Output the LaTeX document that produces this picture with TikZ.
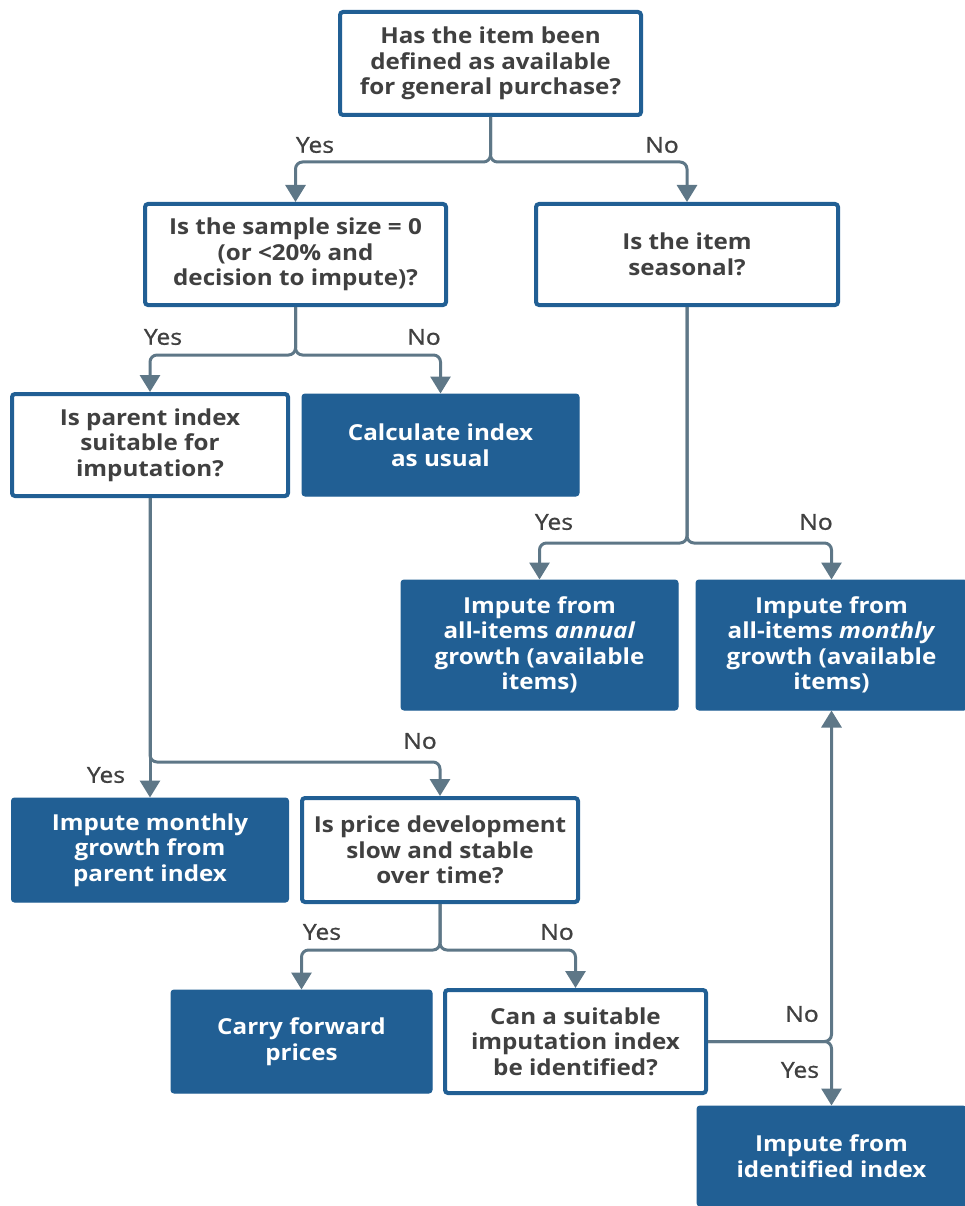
\documentclass[tikz,border=0pt]{standalone}
\usepackage{fontspec}
\setmainfont{Open Sans}[FakeStretch=1.1]
\newfontfamily\lblfam{Open Sans}[FakeStretch=1.12, FakeBold=1]
\usetikzlibrary{arrows.meta}
\definecolor{qblue}{HTML}{215F94}
\definecolor{qline}{HTML}{5E7787}
\definecolor{qtext}{HTML}{404040}
\newcommand{\qboxfont}{\fontsize{22}{25.5}\selectfont\bfseries}
\newcommand{\qlblfont}{\lblfam\fontsize{22}{25}\selectfont}
\begin{document}
\begin{tikzpicture}[x=1pt,y=-1pt,
  qbox/.style={draw=qblue, line width=4pt, fill=white, rounded corners=3pt, inner sep=0pt, align=center, text=qtext, font=\qboxfont},
  rbox/.style={draw=qblue, line width=1pt, fill=qblue, rounded corners=3pt, inner sep=0pt, align=center, text=white, font=\qboxfont},
  conn/.style={draw=qline, line width=3pt, rounded corners=7pt, -{Triangle[width=20pt,length=17pt]}},
  lbl/.style={text=qtext, font=\qlblfont, inner sep=0pt}]
\useasboundingbox (0,0) rectangle (964,1206);

% decision boxes
\node[qbox, minimum width=301, minimum height=103] (q1) at (490.5,63.5) {Has the item been\\defined as available\\for general purchase?};
\node[qbox, minimum width=301, minimum height=101] (q2) at (295.5,254.5) {Is the sample size = 0\\(or <20\% and\\decision to impute)?};
\node[qbox, minimum width=302, minimum height=101] (q3) at (687,254.5) {Is the item\\seasonal?};
\node[qbox, minimum width=276, minimum height=102] (q4) at (150,445) {Is parent index\\suitable for\\imputation?};
\node[qbox, minimum width=276, minimum height=104] (q5) at (440,850) {Is price development\\slow and stable\\over time?};
\node[qbox, minimum width=261, minimum height=103] (q6) at (575.5,1041.5) {Can a suitable\\imputation index\\be identified?};

% result boxes
\node[rbox, minimum width=277, minimum height=102] (r1) at (440.5,445) {Calculate index\\as usual};
\node[rbox, minimum width=277, minimum height=130] (r2) at (539.5,645) {Impute from\\all-items \textit{annual}\\growth (available\\items)};
\node[rbox, minimum width=271, minimum height=130] (r3) at (831.5,645) {Impute from\\all-items \textit{monthly}\\growth (available\\items)};
\node[rbox, minimum width=277, minimum height=104] (r4) at (150,850) {Impute monthly\\growth from\\parent index};
\node[rbox, minimum width=261, minimum height=103] (r5) at (301.5,1041.5) {Carry forward\\prices};
\node[rbox, minimum width=269, minimum height=100] (r6) at (831.5,1156) {Impute from\\identified index};

% junctions
\coordinate (j1) at (490.5,162);
\coordinate (j2) at (295.5,355);
\coordinate (j3) at (687,543);
\coordinate (j4) at (150,762);
\coordinate (j5) at (440,950);
\coordinate (j6) at (831.5,1041.5);

% connectors
\draw[conn] (q1.south) -- (j1) -| (q2.north);
\draw[conn] (q1.south) -- (j1) -| (q3.north);
\draw[conn] (q2.south) -- (j2) -| (q4.north);
\draw[conn] (q2.south) -- (j2) -| (r1.north);
\draw[conn] (q3.south) -- (j3) -| (r2.north);
\draw[conn] (q3.south) -- (j3) -| (r3.north);
\draw[conn] (q4.south) -- (r4.north);
\draw[conn] (q4.south) -- (j4) -| (q5.north);
\draw[conn] (q5.south) -- (j5) -| (r5.north);
\draw[conn] (q5.south) -- (j5) -| (q6.north);
\draw[conn] (q6.east) -- (j6) -- (r3.south);
\draw[conn] (q6.east) -- (j6) -- (r6.north);

% labels
\node[lbl] (l1) at (315,145) {Yes};
\node[lbl] (l2) at (662,145) {No};
\node[lbl] (l3) at (163,337) {Yes};
\node[lbl] (l4) at (424,337) {No};
\node[lbl] (l5) at (554,522) {Yes};
\node[lbl] (l6) at (816,522) {No};
\node[lbl] (l7) at (106,775) {Yes};
\node[lbl] (l8) at (420,741) {No};
\node[lbl] (l9) at (322,932) {Yes};
\node[lbl] (l10) at (557,932) {No};
\node[lbl] (l11) at (802,1014) {No};
\node[lbl] (l12) at (800,1070) {Yes};
\end{tikzpicture}
\end{document}
